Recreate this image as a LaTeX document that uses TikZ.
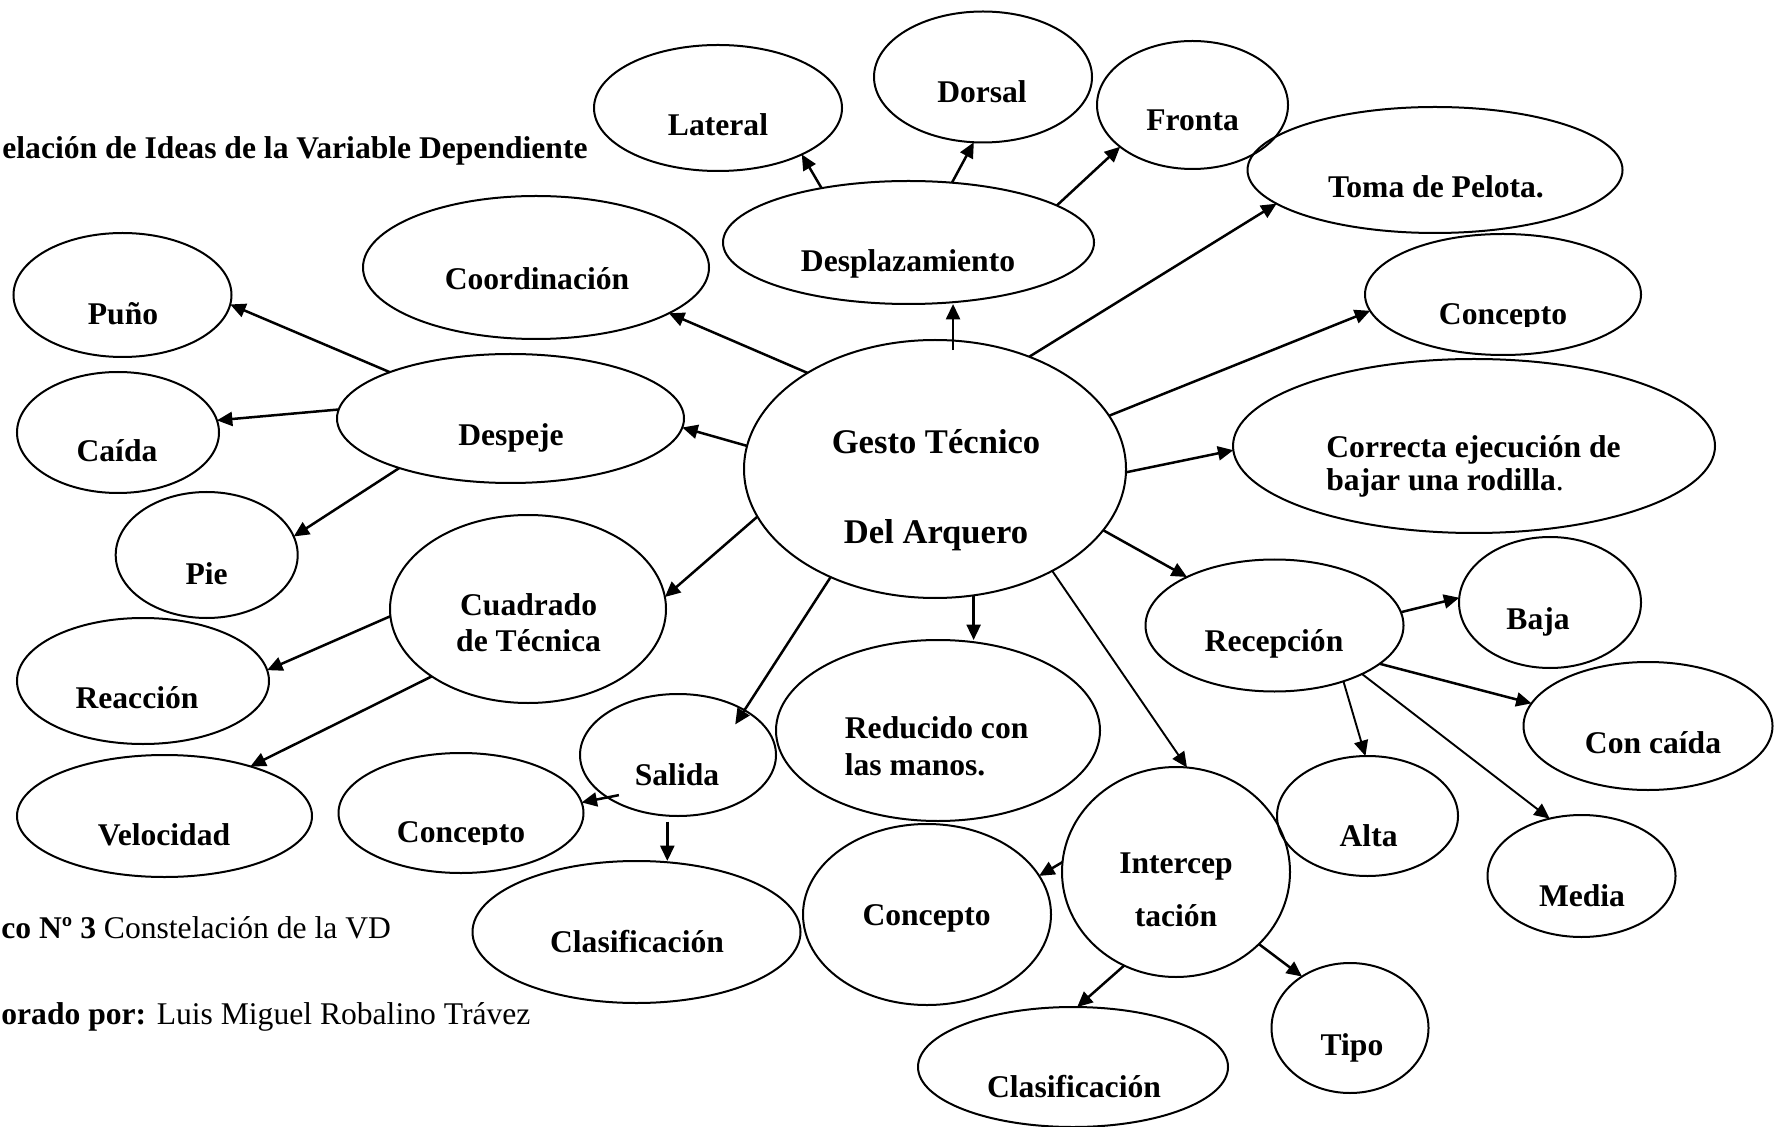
\documentclass[tikz,border=0pt]{standalone}
\usepackage{fontspec}
\setmainfont{Liberation Serif}
\usetikzlibrary{arrows.meta,shapes.geometric}

% bubble: name, x, y, half-width, half-height (in picture units)
\newcommand{\bubnode}[5]{\node[bub, minimum width=#4pt, minimum height=#5pt] (#1) at (#2,#3) {};}

\tikzset{
  bub/.style={draw, ellipse, line width=1pt, inner sep=0pt, outer sep=0pt},
  lab/.style={anchor=base, inner sep=0pt, font=\fontsize{15.8}{19}\selectfont\bfseries},
  labw/.style={lab, anchor=base west},
  captxt/.style={anchor=base west, inner sep=0pt, font=\fontsize{15.8}{19}\selectfont},
  arr/.style={line width=1.25pt, -{Triangle[length=7.7pt,width=7pt]}},
  arrthin/.style={arr, line width=0.95pt},
}

\begin{document}
\begin{tikzpicture}[x=0.5pt, y=-0.5pt]
\useasboundingbox (0,0) rectangle (1775,1127);
\fill[white] (0,0) rectangle (1775,1127);
\clip (0,0) rectangle (1775,1127);

% title and captions
\node[captxt, font=\fontsize{15.8}{19}\selectfont\bfseries] (title) at (2,159)
  {elación de Ideas de la Variable Dependiente};
\node[captxt] (caption) at (1,938) {\textbf{co Nº 3} Constelación de la VD};
\node[captxt] (author) at (1,1024.5) {\textbf{orado por:} Luis Miguel Robalino Trávez};

% bubbles
\bubnode{puno}{122.5}{295}{109}{62}
\bubnode{caida}{118}{432.5}{101}{60.5}
\bubnode{despeje}{510.5}{418.5}{173.5}{64.5}
\bubnode{coord}{536}{267.5}{173}{71.5}
\bubnode{pie}{206.7}{555}{91}{63}
\bubnode{reac}{143}{681}{126}{63}
\bubnode{velo}{164.5}{816}{147.5}{61}
\bubnode{concS}{461}{813}{122.5}{60}
\bubnode{cuad}{528}{609}{138}{94}
\bubnode{clasS}{636.5}{932}{164}{71}
\bubnode{salida}{678}{755}{98}{61}
\bubnode{reduc}{938}{730.5}{162}{90.5}
\bubnode{concI}{927}{914.5}{124}{90.5}
\bubnode{clasI}{1073}{1067}{155}{60}
\bubnode{gesto}{935}{469}{191}{129}
\bubnode{inter}{1176}{872}{114}{105}
\bubnode{lateral}{718}{108}{124}{63}
\bubnode{dorsal}{983}{77}{109}{65.5}
\bubnode{fronta}{1192.5}{105}{95.5}{64}
\bubnode{despl}{908.5}{242.5}{185.5}{61.5}
\bubnode{toma}{1435}{170}{187.5}{63}
\bubnode{concR}{1503}{294.5}{138}{60.5}
\bubnode{correcta}{1474}{446}{241}{87}
\bubnode{recep}{1274.5}{625.5}{129}{66}
\bubnode{baja}{1550}{602.5}{91}{65.5}
\bubnode{concaida}{1648}{726}{124.5}{64}
\bubnode{alta}{1367.5}{816}{90.5}{60}
\bubnode{media}{1581.5}{876}{94}{61}
\bubnode{tipo}{1350}{1028}{78.5}{65}

% labels
\node[lab] (tPuno) at (123,324.5) {Puño};
\node[lab] (tCaida) at (117,462) {Caída};
\node[lab] (tDespeje) at (511,446) {Despeje};
\node[lab] (tCoord) at (537,290) {Coordinación};
\node[lab] (tPie) at (206.7,584.4) {Pie};
\node[lab] (tReac) at (137,708) {Reacción};
\node[lab] (tVelo) at (164,845.8) {Velocidad};
\begin{scope}
  \clip (340,780) rectangle (585,844.7);
  \node[lab] (tConcS) at (461,842.7) {Concepto};
\end{scope}
\node[lab, font=\fontsize{15.8}{18.2}\selectfont\bfseries] (tCuad) at (528.6,615)
  {\begin{tabular}[t]{@{}c@{}}Cuadrado\\de Técnica\end{tabular}};
\node[lab] (tSalida) at (677,785) {Salida};
\node[labw, font=\fontsize{15.8}{18.5}\selectfont\bfseries] (tReduc) at (844.5,738.6)
  {\begin{tabular}[t]{@{}l@{}}Reducido con\\las manos.\end{tabular}};
\node[lab] (tConcI) at (926.6,925) {Concepto};
\node[lab] (tClasS) at (637,952.6) {Clasificación};
\node[lab] (tClasI) at (1074,1097) {Clasificación};
\node[lab, font=\fontsize{15.8}{26.3}\selectfont\bfseries] (tInter) at (1176,873.4)
  {\begin{tabular}[t]{@{}c@{}}Intercep\\tación\end{tabular}};
\node[lab, font=\fontsize{17.3}{45}\selectfont\bfseries] (tGesto) at (936,453.5)
  {\begin{tabular}[t]{@{}c@{}}Gesto Técnico\\Del Arquero\end{tabular}};
\node[lab] (tDespl) at (908,271.7) {Desplazamiento};
\node[lab] (tLateral) at (718,135.9) {Lateral};
\node[lab] (tDorsal) at (982,102.6) {Dorsal};
\node[lab] (tFronta) at (1192.6,131) {Fronta};
\node[lab] (tToma) at (1436,198) {Toma de Pelota.};
\begin{scope}
  \clip (1370,280) rectangle (1640,326.5);
  \node[lab] (tConcR) at (1503,324.5) {Concepto};
\end{scope}
\node[labw, font=\fontsize{15.8}{16.85}\selectfont\bfseries] (tCorrecta) at (1326,457.3)
  {\begin{tabular}[t]{@{}l@{}}Correcta ejecución de\\bajar una rodilla{\mdseries .}\end{tabular}};
\node[lab] (tRecep) at (1274,651.4) {Recepción};
\node[lab] (tBaja) at (1538,629.6) {Baja};
\node[lab] (tConcaida) at (1653,753.6) {Con caída};
\node[lab] (tAlta) at (1368.6,846.6) {Alta};
\node[lab] (tMedia) at (1582,906) {Media};
\node[lab] (tTipo) at (1352,1055) {Tipo};

% connectors
\draw[arr] (despeje.159.8) -- (puno.-5);
\draw[arr] (despeje.177.4) -- (caida.7.5);
\draw[arr] (despeje.204.4) -- (pie.12.4);
\draw[arr] (gesto.143.6) -- (coord.-19.4);
\draw[arr] (gesto.173.6) -- (despeje.-3.9);
\draw[arr, shorten <=-4.8pt] (gesto.82.8) -- (gesto.82.8 |- despl.south);
\draw[arr] (despl.148.3) -- (lateral.-29.3);
\draw[arr] (despl.54.8) -- (dorsal.-98.7);
\draw[arr] (despl.14.4) -- (fronta.210.8);
\draw[arr] (gesto.50.8) -- (toma.192.4);
\draw[arr] (gesto.17.4) -- (concR.187.2);
\draw[arr] (gesto.-1.4) -- (correcta.181.1);
\draw[arr] (gesto.-20.9) -- (recep.151.3);
\draw[arr] (gesto.195.2) -- (cuad.5);
\draw[arr, shorten >=-8.5pt] (gesto.226.3) -- (salida.34.4);
\draw[arr] (gesto.-73.8) -- (gesto.-73.8 |- reduc.north);
\draw[arrthin] (gesto.-41.2) -- (inter.84.1);
\draw[arr] (cuad.183.5) -- (reac.5.9);
\draw[arr] (cuad.215.4) -- (velo.30.2);
\draw[arr, shorten <=-5.8pt] (salida.211.5) -- (concS.5.3);
\draw[arr, shorten <=3pt] (salida.260) -- (salida.260 |- clasS.north);
\draw[arr] (inter.175.9) -- (concI.19.6);
\draw[arr] (inter.241.4) -- (clasI.86.5);
\draw[arr] (inter.-41.7) -- (tipo.133.5);
\draw[arr] (recep.6.3) -- (baja.177.8);
\draw[arr] (recep.-20.4) -- (concaida.169.5);
\draw[arrthin] (recep.-39.7) -- (alta.92.2);
\draw[arrthin] (recep.-29.6) -- (media.119);
\end{tikzpicture}
\end{document}
